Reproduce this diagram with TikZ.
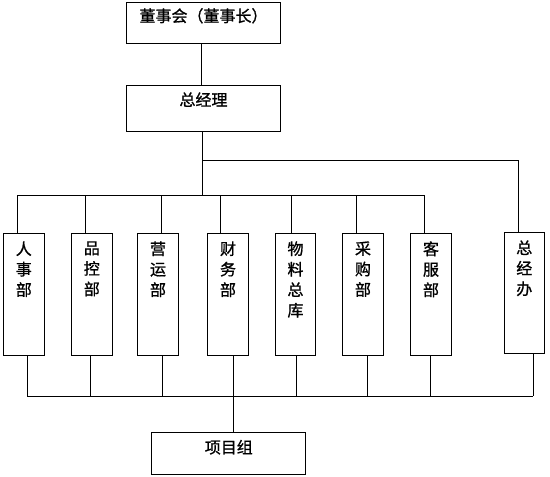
\documentclass[tikz,border=0pt]{standalone}
\usepackage{fontspec}
\newfontfamily\cjk[FakeBold=1]{Noto Sans CJK SC}
\begin{document}
\begin{tikzpicture}[x=1pt,y=-1pt,line width=1pt,
  box/.style={draw,rectangle,inner sep=0,line width=1pt},
  wide/.style={box,minimum width=153.6pt},
  dept/.style={box,minimum width=41pt,minimum height=121.7pt},
  lab/.style={inner sep=0,font=\cjk\fontsize{16}{20.5}\selectfont,align=center}]
\useasboundingbox (0,0) rectangle (550,477);
% top boxes
\node[wide,minimum height=40.6pt,label={[lab,anchor=north,yshift=-5.5pt]north:董事会（董事长）}] (top) at (203.5,23) {};
\node[wide,minimum height=45.7pt,label={[lab,anchor=north,yshift=-7pt]north:总经理}] (gm) at (203.5,108.2) {};
% departments
\node[dept,label={[lab,anchor=north,yshift=-8pt]north:人\\事\\部}] (rs) at (23.8,294.2) {};
\node[dept,label={[lab,anchor=north,yshift=-8pt]north:品\\控\\部}] (pk) at (91.8,294.2) {};
\node[dept,label={[lab,anchor=north,yshift=-8pt]north:营\\运\\部}] (yy) at (158,294.2) {};
\node[dept,label={[lab,anchor=north,yshift=-8pt]north:财\\务\\部}] (cw) at (228,294.2) {};
\node[dept,minimum width=40.4pt,label={[lab,anchor=north,yshift=-8pt]north:物\\料\\总\\库}] (wl) at (295.5,294.2) {};
\node[dept,label={[lab,anchor=north,yshift=-8pt]north:采\\购\\部}] (cg) at (363,294.2) {};
\node[dept,label={[lab,anchor=north,yshift=-8pt]north:客\\服\\部}] (kf) at (431,294.2) {};
\node[dept,minimum width=40.4pt,minimum height=120.8pt,label={[lab,anchor=north,yshift=-8pt]north:总\\经\\办}] (zjb) at (524.3,292.8) {};
% project group
\node[box,minimum width=154.3pt,minimum height=41.7pt,label={[lab,anchor=north,yshift=-7.5pt]north:项目组}] (xmz) at (228.8,453.2) {};
% connectors top
\coordinate (tm) at (202.3,195.3);
\coordinate (rb) at (202.3,160.5);
\coordinate (t1) at (17.3,195.3);
\coordinate (t2) at (85.7,195.3);
\coordinate (t3) at (161.3,195.3);
\coordinate (t4) at (220.3,195.3);
\coordinate (t5) at (291.7,195.3);
\coordinate (t6) at (356.7,195.3);
\coordinate (t7) at (424.3,195.3);
\coordinate (tr) at (518.3,160.5);
\draw ([xshift=-2pt]top.south) -- ([xshift=-2pt]top.south |- gm.north);
\draw (gm.south -| tm) -- (tm);
\draw (t1) -- (t7);
\draw (rb) -- (tr) -- (tr |- zjb.north);
\draw (t1) -- (t1 |- rs.north);
\draw (t2) -- (t2 |- pk.north);
\draw (t3) -- (t3 |- yy.north);
\draw (t4) -- (t4 |- cw.north);
\draw (t5) -- (t5 |- wl.north);
\draw (t6) -- (t6 |- cg.north);
\draw (t7) -- (t7 |- kf.north);
% connectors bottom
\coordinate (u1) at (27.3,396);
\coordinate (u2) at (90.3,396);
\coordinate (u3) at (162.3,396);
\coordinate (u4) at (233.3,396);
\coordinate (u5) at (296.7,396);
\coordinate (u6) at (367.3,396);
\coordinate (u7) at (430.7,396);
\coordinate (u8) at (533.3,396);
\draw (u1) -- (u8);
\draw (u1 |- rs.south) -- (u1);
\draw (u2 |- pk.south) -- (u2);
\draw (u3 |- yy.south) -- (u3);
\draw (u4 |- cw.south) -- (u4);
\draw (u5 |- wl.south) -- (u5);
\draw (u6 |- cg.south) -- (u6);
\draw (u7 |- kf.south) -- (u7);
\draw (u8 |- zjb.south) -- (u8);
\draw (u4) -- (u4 |- xmz.north);
\end{tikzpicture}
\end{document}
